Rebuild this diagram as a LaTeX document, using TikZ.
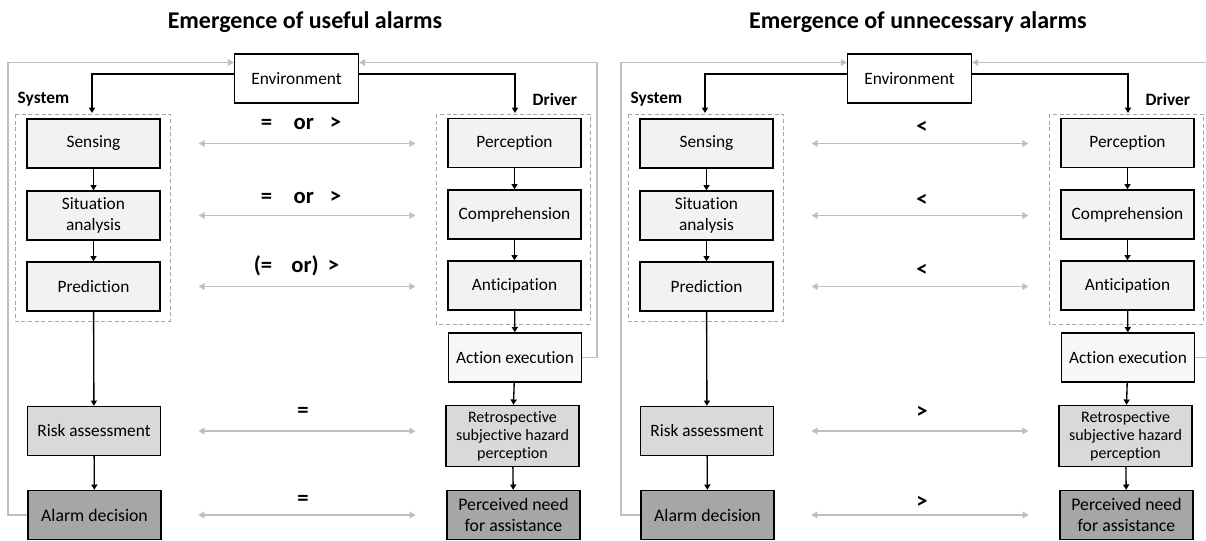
\documentclass[tikz,border=0pt]{standalone}
\usepackage{fontspec}
\setmainfont{Carlito}[Ligatures={NoCommon}]
\usetikzlibrary{arrows.meta}
\definecolor{fillA}{HTML}{F2F2F2}
\definecolor{fillB}{HTML}{D9D9D9}
\definecolor{fillC}{HTML}{A6A6A6}
\definecolor{gline}{HTML}{BFBFBF}
\definecolor{dline}{HTML}{A6A6A6}
\tikzset{
  box/.style={draw=black, line width=1pt, minimum width=99.75pt, minimum height=36.75pt, align=center, inner sep=1pt, font=\fontsize{13}{15.5}\selectfont},
  boxA/.style={box, fill=fillA},
  boxB/.style={box, fill=fillB},
  boxC/.style={box, fill=fillC, font=\fontsize{13.3}{15.5}\selectfont},
  envbox/.style={box, fill=white, minimum width=93pt},
  blk/.style={draw=black, line width=1pt, -{Triangle[length=4pt,width=4.5pt]}},
  gry/.style={draw=gline, line width=0.9pt, -{Triangle[length=4.5pt,width=5pt]}},
  gdbl/.style={draw=gline, line width=0.9pt, {Triangle[length=4.5pt,width=5pt]}-{Triangle[length=4.5pt,width=5pt]}},
  dashbox/.style={draw=dline, line width=0.7pt, dash pattern=on 3pt off 2pt},
  cmp/.style={font=\bfseries\fontsize{17}{19}\selectfont, inner sep=0pt},
  ttl/.style={font=\bfseries\fontsize{18}{20}\selectfont},
  side/.style={font=\bfseries\fontsize{13}{15}\selectfont},
}
\newcommand\alarmpanel[3]{%
  \node[ttl] (#1title) at (#2+305,22) {#3};
  \node[envbox] (#1env) at (#2+296.5,78.5) {Environment};
  \node[side, anchor=west] (#1sys) at (#2+13,99) {System};
  \node[side, anchor=west] (#1drv) at (#2+528,99) {Driver};
  \draw[dashbox] (#2+15,114) rectangle (#2+170,321);
  \draw[dashbox] (#2+436,114) rectangle (#2+590,324);
  \node[boxA] (#1sens) at (#2+93.5,143.5) {Sensing};
  \node[boxA] (#1sit) at (#2+93.5,215.5) {Situation\\analysis};
  \node[boxA] (#1pred) at (#2+93.5,286.5) {Prediction};
  \node[boxB] (#1risk) at (#2+94,431) {Risk assessment};
  \node[boxC] (#1alarm) at (#2+94.5,515) {Alarm decision};
  \node[boxA] (#1perc) at (#2+514.5,143) {Perception};
  \node[boxA] (#1comp) at (#2+514.5,214.5) {Comprehension};
  \node[boxA] (#1ant) at (#2+514.5,285.5) {Anticipation};
  \node[boxA, fill=fillA!60] (#1act) at (#2+515,357.5) {Action execution};
  \node[boxB, minimum height=45.75pt, font=\fontsize{12}{13.5}\selectfont] (#1retro) at (#2+512.5,436) {Retrospective\\subjective hazard\\perception};
  \node[boxC] (#1need) at (#2+513.5,515) {Perceived need\\for assistance};
  \coordinate (#1sysin) at (#2+92,113);
  \coordinate (#1drvin) at (#2+515,113);
  \coordinate (#1lft) at (#2+8,0);
  \coordinate (#1rgt) at (#2+597,0);
  \draw[blk] ([yshift=3.4pt]#1env.west) -| (#1sysin);
  \draw[blk] ([yshift=3.4pt]#1env.east) -| (#1drvin);
  \draw[blk] (#1sens) -- (#1sit);
  \draw[blk] (#1sit) -- (#1pred);
  \draw[blk] (#1pred) -- (#1risk);
  \draw[blk] (#1risk) -- (#1alarm);
  \draw[blk] (#1perc) -- (#1comp);
  \draw[blk] (#1comp) -- (#1ant);
  \draw[blk] (#1ant) -- (#1act);
  \draw[blk] (#1act) -- (#1retro);
  \draw[blk] (#1retro) -- (#1need);
  \draw[gry] (#1alarm.west) -- (#1alarm.west -| #1lft) |- ([yshift=12pt]#1env.west);
  \draw[gry] (#1act.east) -- (#1act.east -| #1rgt) |- ([yshift=12pt]#1env.east);
  \draw[gdbl, shorten <=28.5pt, shorten >=24pt] (#1sens.east) -- (#1sens.east -| #1perc.west);
  \draw[gdbl, shorten <=28.5pt, shorten >=24pt] (#1sit.east) -- (#1sit.east -| #1comp.west);
  \draw[gdbl, shorten <=28.5pt, shorten >=24pt] (#1pred.east) -- (#1pred.east -| #1ant.west);
  \draw[gdbl, shorten <=28pt, shorten >=22.5pt] (#1risk.east) -- (#1risk.east -| #1retro.west);
  \draw[gdbl, shorten <=27.5pt, shorten >=23pt] (#1alarm.east) -- (#1alarm.east -| #1need.west);
}
\begin{document}
\begin{tikzpicture}[x=0.75pt, y=-0.75pt]
\clip (0,0) rectangle (1206,540);
\useasboundingbox (0,0) rectangle (1206,540);
\alarmpanel{L}{0}{Emergence of useful alarms}
\alarmpanel{R}{613}{Emergence of unnecessary alarms}
% comparison labels, left panel
\node[cmp] (Lc1) at (301,123) {=\hspace{0.95em}or\hspace{0.7em}>};
\node[cmp] (Lc2) at (301,197) {=\hspace{0.95em}or\hspace{0.7em}>};
\node[cmp] (Lc3) at (296.5,266) {(=\hspace{0.85em}or)\hspace{0.4em}>};
\node[cmp] (Lc4) at (303,412) {=};
\node[cmp] (Lc5) at (303,500) {=};
% comparison labels, right panel
\node[cmp] (Rc1) at (922,127) {<};
\node[cmp] (Rc2) at (922,200) {<};
\node[cmp] (Rc3) at (922,270) {<};
\node[cmp] (Rc4) at (922,412) {>};
\node[cmp] (Rc5) at (922,502) {>};
\end{tikzpicture}
\end{document}
